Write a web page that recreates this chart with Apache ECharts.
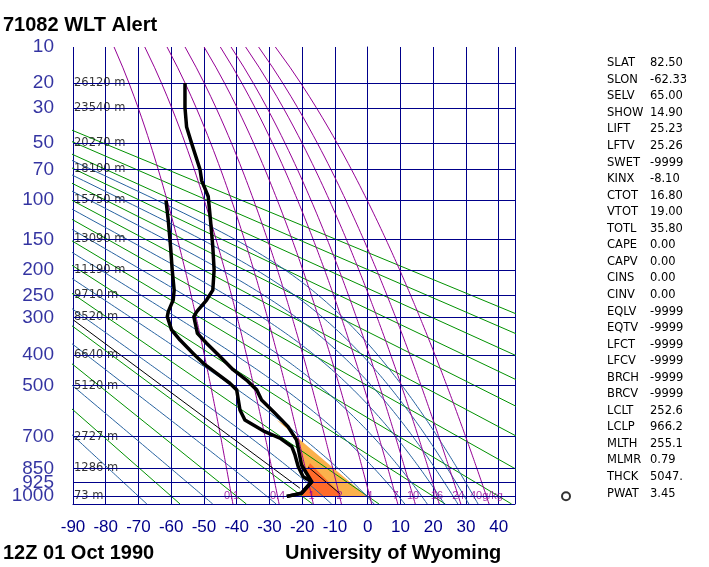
<!DOCTYPE html>
<html>
<head>
<meta charset="utf-8">
<script src="https://cdn.jsdelivr.net/npm/echarts@6.0.0/dist/echarts.min.js"></script>
<style>html,body{margin:0;padding:0;background:#fff;}</style>
</head>
<body>
<div id="chart" style="width:709px;height:567px"></div>
<script>
// Stuve diagram: y is linear in p^kappa
var KAPPA = 0.286;
function kap(p) { return Math.pow(p, KAPPA); }

var pressureLevels = [10, 20, 30, 50, 70, 100, 150, 200, 250, 300, 400, 500, 700, 850, 925, 1000];
var heightLevels = [20, 30, 50, 70, 100, 150, 200, 250, 300, 400, 500, 700, 850, 1000];
var heightLabels = ['26120 m', '23540 m', '20270 m', '18100 m', '15750 m', '13090 m', '11190 m',
                    '9710 m', '8520 m', '6640 m', '5120 m', '2727 m', '1286 m', '73 m'];

// temperature profile (hPa, degC)
var tempPres = [20, 30, 40, 50, 70, 80, 96, 124, 161, 200, 239, 260, 286, 298, 340, 367, 405, 446,
                480, 514, 551, 602, 657, 715, 833, 920, 983, 1001];
var tempVals = [-55.8, -55.8, -55.3, -53.8, -51.2, -50.7, -48.7, -48.0, -47.3, -46.9, -47.3, -49.2,
                -52.2, -53.1, -52.0, -49.2, -45.1, -41.1, -37.0, -33.9, -32.4, -28.3, -24.3, -21.7,
                -20.2, -17.1, -20.2, -24.7];
// dew point profile
var dewPres = [100, 124, 161, 200, 239, 260, 286, 298, 331, 358, 396, 426, 458, 491, 514, 551, 589,
               629, 678, 706, 744, 784, 842, 893, 920, 983, 1001];
var dewVals = [-61.6, -60.9, -60.2, -59.7, -59.1, -59.4, -60.9, -61.2, -59.9, -57.3, -53.3, -50.2,
               -46.1, -42.1, -40.0, -39.5, -39.0, -37.5, -31.4, -26.8, -23.2, -22.2, -21.2, -19.7,
               -17.1, -20.2, -24.7];
// thin black lines
var parcelPres = [306, 955];
var parcelTemp = [-89.9, -20.7];
var thinPres = [843, 985];
var thinTemp = [-18.2, -8.5];
// shaded areas
var lightPres = [629, 1000, 1000, 983, 920, 833, 715, 657];
var lightTemp = [-27.8, -0.3, -20.2, -20.2, -17.1, -20.2, -21.7, -24.3];
var darkPres = [824, 983, 1000, 1000, 920, 859];
var darkTemp = [-17.6, -8.5, -8.5, -20.2, -17.1, -18.8];

// background lines
var dryTheta = [-60, -40, -20, 0, 20, 40, 60, 80, 100, 120, 140, 160, 180];     // theta, degC
var moistThetaE = [-70, -50, -30, -10, 10, 30, 50, 70, 90, 110, 130];           // theta-e, degC
var mixRatios = [0.1, 0.4, 1, 2, 4, 7, 10, 16, 24, 40];                           // g/kg
var mixLabels = ['0.1', '0.4', '1', '2', '4', '7', '10', '16', '24', '40g/kg'];

var windPres = [1000];

var indexNames = ['SLAT', 'SLON', 'SELV', 'SHOW', 'LIFT', 'LFTV', 'SWET', 'KINX', 'CTOT', 'VTOT',
                  'TOTL', 'CAPE', 'CAPV', 'CINS', 'CINV', 'EQLV', 'EQTV', 'LFCT', 'LFCV', 'BRCH',
                  'BRCV', 'LCLT', 'LCLP', 'MLTH', 'MLMR', 'THCK', 'PWAT'];
var indexValues = ['82.50', '-62.33', '65.00', '14.90', '25.23', '25.26', '-9999', '-8.10', '16.80',
                   '19.00', '35.80', '0.00', '0.00', '0.00', '0.00', '-9999', '-9999', '-9999', '-9999',
                   '-9999', '-9999', '252.6', '966.2', '255.1', '0.79', '5047.', '3.45'];

var NAVY = '#00008a', GREEN = '#009100', BLUE = '#27629f', PURPLE = '#950095';
var P_TOP = 10, P_BOT = 1045;

function esat(t) { return 6.112 * Math.exp(17.67 * t / (t + 243.5)); }
function mixTemp(w, p) {
    var e = w * p / (622 + w);
    var l = Math.log(e / 6.112);
    return 243.5 * l / (17.67 - l);
}
// Bolton theta-e of saturated air
function thetaE(t, p) {
    var T = t + 273.15, es = esat(t);
    if (es >= p * 0.5) return 1e9;
    var r = 622 * es / (p - es);
    return T * Math.pow(1000 / p, 0.2854 * (1 - 0.00028 * r)) *
           Math.exp((3.376 / T - 0.00254) * r * (1 + 0.00081 * r));
}
function moistTemp(thE, p) {
    var lo = -170, hi = 60;
    for (var i = 0; i < 40; i++) {
        var mid = (lo + hi) / 2;
        if (thetaE(mid, p) > thE) hi = mid; else lo = mid;
    }
    return (lo + hi) / 2;
}
function pairs(ps, ts) { return ps.map(function (p, i) { return [ts[i], kap(p)]; }); }

var linePres = [];
for (var pp = P_BOT; pp >= P_TOP; pp -= 5) linePres.push(pp);

var series = [];

function polygon(ps, ts, color) {
    var pts = pairs(ps, ts);
    return {
        type: 'custom', z: 1, silent: true, animation: false,
        data: [pts[0]],
        renderItem: function (params, api) {
            return {
                type: 'polygon',
                shape: { points: pts.map(function (d) { return api.coord(d); }) },
                style: { fill: color }
            };
        }
    };
}
series.push(polygon(lightPres, lightTemp, '#fbb14c'));
series.push(polygon(darkPres, darkTemp, '#ff6b2a'));

// isobars
series.push({
    type: 'line', data: [], z: 2, silent: true,
    markLine: {
        silent: true, symbol: ['none', 'none'], animation: false,
        label: { show: false },
        lineStyle: { color: NAVY, type: 'solid', width: 1 },
        data: pressureLevels.map(function (p) { return { yAxis: kap(p) }; })
    }
});

function bgLine(data, color) {
    return {
        type: 'line', data: data, z: 3, silent: true, showSymbol: false, animation: false,
        clip: true, lineStyle: { color: color, width: 1 }
    };
}
dryTheta.forEach(function (th) {
    var T = th + 273.15;
    series.push(bgLine([P_BOT, P_TOP].map(function (p) {
        return [T * Math.pow(p / 1000, KAPPA) - 273.15, kap(p)];
    }), GREEN));
});
moistThetaE.forEach(function (te) {
    series.push(bgLine(linePres.map(function (p) {
        return [moistTemp(te + 273.15, p), kap(p)];
    }), BLUE));
});
mixRatios.forEach(function (w) {
    series.push(bgLine(linePres.map(function (p) { return [mixTemp(w, p), kap(p)]; }), PURPLE));
});

// mixing ratio labels
series.push({
    type: 'scatter', z: 4, silent: true, symbolSize: 0, animation: false,
    data: mixRatios.map(function (w) { return [mixTemp(w, 1000), kap(1000)]; }),
    label: {
        show: true, position: 'inside', color: PURPLE, fontSize: 11,
        fontFamily: 'Liberation Sans',
        formatter: function (d) { return mixLabels[d.dataIndex]; }
    }
});
// height labels
series.push({
    type: 'scatter', z: 4, silent: true, symbolSize: 0, animation: false,
    data: heightLevels.map(function (p) { return [-90, kap(p)]; }),
    label: {
        show: true, position: 'right', distance: 1, color: '#000', fontSize: 11.5,
        fontFamily: 'DejaVu Sans',
        formatter: function (d) { return heightLabels[d.dataIndex]; }
    }
});
// pressure labels, left of the frame
series.push({
    type: 'scatter', z: 4, silent: true, symbolSize: 0, animation: false,
    data: pressureLevels.map(function (p) { return [-90, kap(p)]; }),
    label: {
        show: true, position: 'left', distance: 19, color: NAVY, fontSize: 19,
        fontFamily: 'Liberation Sans',
        formatter: function (d) { return String(pressureLevels[d.dataIndex]); }
    }
});

// thin black lines
series.push(bgLine(pairs(parcelPres, parcelTemp), '#000'));
series.push(bgLine(pairs(thinPres, thinTemp), '#000'));
// profiles
[pairs(tempPres, tempVals), pairs(dewPres, dewVals)].forEach(function (d) {
    series.push({
        type: 'line', data: d, z: 5, silent: true, showSymbol: false, animation: false,
        lineStyle: { color: '#000', width: 3.5, join: 'round' }
    });
});
// wind at 1000 hPa (calm)
series.push({
    type: 'scatter', xAxisIndex: 1, yAxisIndex: 1, silent: true, animation: false,
    symbol: 'emptyCircle', symbolSize: 8,
    itemStyle: { color: '#000', borderColor: '#000', borderWidth: 1 },
    data: windPres.map(function (p) { return [0, kap(p)]; })
});

var graphics = [
    { type: 'text', left: 3, top: 15, style: { text: '71082 WLT Alert', font: 'bold 20px "Liberation Sans"', fill: '#000' } },
    { type: 'text', left: 3, top: 543, style: { text: '12Z 01 Oct 1990', font: 'bold 20px "Liberation Sans"', fill: '#000' } },
    { type: 'text', left: 285, top: 543, style: { text: 'University of Wyoming', font: 'bold 20px "Liberation Sans"', fill: '#000' } }
];
indexNames.forEach(function (n, i) {
    var y = 63.3 + 16.55 * i;
    graphics.push({ type: 'text', x: 607, y: y, style: { text: n, font: '11.5px "DejaVu Sans"', fill: '#000', verticalAlign: 'middle' } });
    graphics.push({ type: 'text', x: 650, y: y, style: { text: indexValues[i], font: '11.5px "DejaVu Sans"', fill: '#000', verticalAlign: 'middle' } });
});

var chart = echarts.init(document.getElementById('chart'), null, { renderer: 'canvas' });
chart.setOption({
    animation: false,
    backgroundColor: '#fff',
    grid: [
        { left: 73, top: 47, width: 442, height: 457 },
        { left: 556, top: 47, width: 20, height: 457 }
    ],
    xAxis: [{
        type: 'value', min: -90, max: 45, interval: 10,
        axisLine: { show: true, lineStyle: { color: NAVY } },
        axisTick: { show: false },
        splitLine: { show: true, lineStyle: { color: NAVY, width: 1 } },
        axisLabel: {
            color: NAVY, fontSize: 17, margin: 15, fontFamily: 'Liberation Sans',
            formatter: function (v) { return v > 40 ? '' : String(v); }
        }
    }, {
        gridIndex: 1, type: 'value', min: -1, max: 1, show: false
    }],
    yAxis: [{
        type: 'value', inverse: true, min: kap(P_TOP), max: kap(P_BOT),
        axisLine: { show: true, lineStyle: { color: NAVY } },
        axisTick: { show: false },
        splitLine: { show: false },
        axisLabel: { show: false }
    }, {
        gridIndex: 1, type: 'value', inverse: true, min: kap(P_TOP), max: kap(P_BOT), show: false
    }],
    graphic: graphics,
    series: series
});
</script>
</body>
</html>
